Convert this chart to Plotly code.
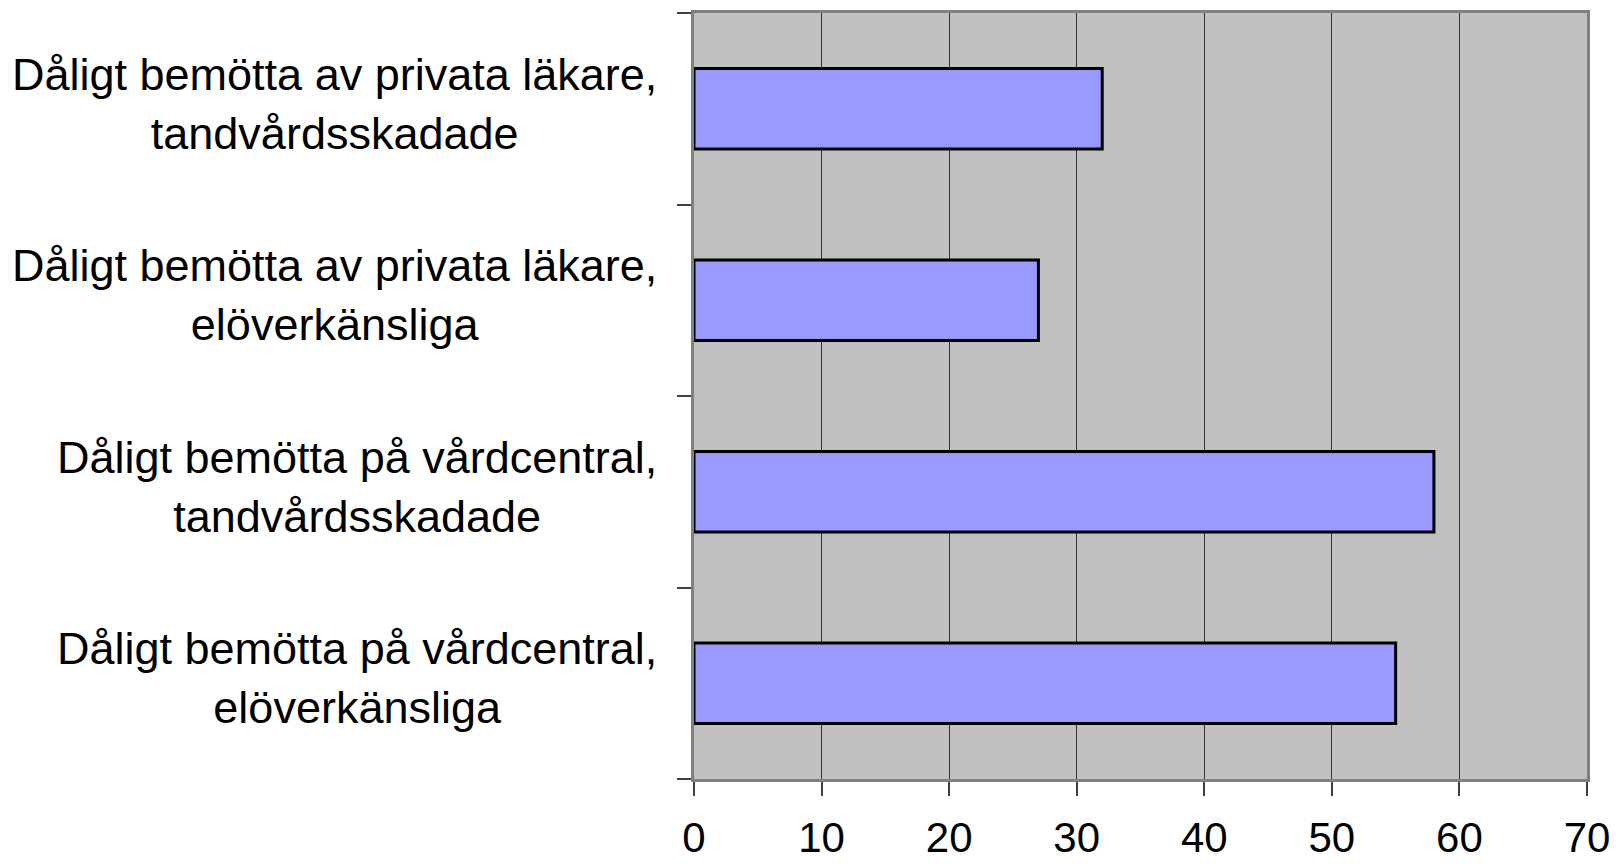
import plotly.graph_objects as go

categories = [
    "Dåligt bemötta av privata läkare,<br>tandvårdsskadade",
    "Dåligt bemötta av privata läkare,<br>elöverkänsliga",
    "Dåligt bemötta på vårdcentral,<br>tandvårdsskadade",
    "Dåligt bemötta på vårdcentral,<br>elöverkänsliga",
]
values = [32, 27, 58, 55]
x_ticks = [0, 10, 20, 30, 40, 50, 60, 70]

font_family = "Liberation Sans, Arial, sans-serif"

fig = go.Figure()
fig.add_trace(
    go.Bar(
        y=list(range(len(categories))),
        x=values,
        orientation="h",
        marker=dict(color="#9999FF", line=dict(color="#000000", width=3)),
        width=0.42,
        hoverinfo="x",
    )
)

# category labels, lines centered like the original
for i, c in enumerate(categories):
    fig.add_annotation(
        x=0, xref="paper", xanchor="right", xshift=-35,
        y=i, yref="y", yanchor="middle", yshift=5,
        text=c, showarrow=False, align="center",
        font=dict(family=font_family, size=45, color="#000000"),
    )

# page body has an 8px margin, so the figure is kept inside the window
fig.update_layout(
    width=1610,
    height=848,
    margin=dict(l=686, r=31, t=5, b=77),
    paper_bgcolor="#FFFFFF",
    plot_bgcolor="#C0C0C0",
    showlegend=False,
    font=dict(family=font_family, color="#000000"),
)
fig.update_xaxes(
    range=[0, 70],
    tickvals=x_ticks,
    ticktext=[str(t) for t in x_ticks],
    tickfont=dict(size=42, family=font_family, color="#000000"),
    ticks="outside",
    ticklen=14,
    tickwidth=1.5,
    tickcolor="#404040",
    ticklabelstandoff=6,
    automargin=False,
    showgrid=True,
    gridcolor="#333333",
    gridwidth=1.3,
    showline=True,
    linecolor="#808080",
    linewidth=3,
    mirror=True,
    zeroline=False,
)
fig.update_yaxes(
    range=[3.5, -0.5],
    tickvals=[-0.5, 0.5, 1.5, 2.5, 3.5],
    ticktext=["", "", "", "", ""],
    ticks="outside",
    ticklen=14,
    tickwidth=1.5,
    tickcolor="#404040",
    automargin=False,
    showgrid=False,
    showline=True,
    linecolor="#808080",
    linewidth=3,
    mirror=True,
    zeroline=False,
)

fig.write_html("out.html")
